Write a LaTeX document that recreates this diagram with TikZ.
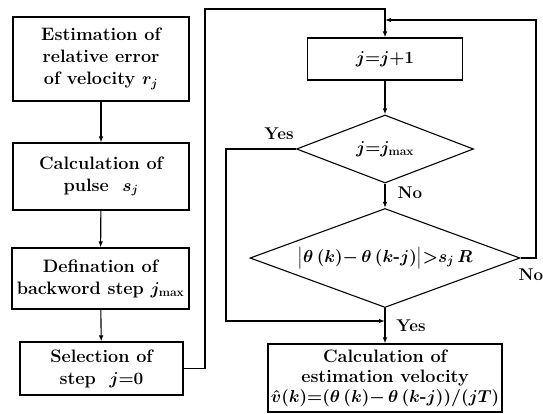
\documentclass[tikz,border=0pt]{standalone}
\usepackage{amsmath}
\usepackage{tikz}
\usetikzlibrary{shapes.geometric,arrows.meta}
\tikzset{
  box/.style={rectangle, draw, line width=1.1pt, align=center, inner sep=0pt,
              font=\fontsize{18}{22}\selectfont\bfseries\boldmath},
  dec/.style={diamond, draw, line width=1.1pt, align=center, inner sep=0pt,
              font=\fontsize{18}{22}\selectfont\bfseries\boldmath},
  lab/.style={font=\fontsize{17}{19}\selectfont\bfseries, inner sep=0pt},
  arr/.style={-{Latex[length=6pt,width=4.5pt]}, line width=1.1pt}
}
\begin{document}
\begin{tikzpicture}[x=1pt,y=-1pt]
  \useasboundingbox (0,0) rectangle (543,414);
  \node[box, minimum width=176pt, minimum height=84pt] (est) at (101,59) {Estimation of\\relative error\\of velocity $r_j$};
  \node[box, minimum width=176pt, minimum height=67pt] (pul) at (101,176.5) {Calculation of\\pulse \ $s_j$};
  \node[box, minimum width=177pt, minimum height=61pt] (bws) at (100.5,278.5) {Defination of\\backword step $j_{\max}$};
  \node[box, minimum width=163pt, minimum height=53pt] (sel) at (101.5,368.5) {Selection of\\step \ $j{=}0$};
  \node[box, minimum width=155pt, minimum height=42pt] (inc) at (385,59) {$j{=}j{+}1$};
  \node[dec, aspect=2.6, minimum width=177pt, minimum height=68pt] (dmax) at (385,149) {$j{=}j_{\max}$};
  \node[dec, aspect=2.7, minimum width=270pt, minimum height=99pt] (dthr) at (385,258) {$\bigl|\theta\,(k){-}\,\theta\,(k\text{-}j)\bigr|{>}s_j\,R$};
  \node[box, minimum width=234pt, minimum height=68pt, font=\fontsize{18}{20}\selectfont\bfseries\boldmath] (vel) at (385,378) {Calculation of\\estimation velocity\\$\hat{v}(k){=}(\theta\,(k){-}\,\theta\,(k\text{-}j))/(jT)$};
  \coordinate (loopl) at (205,9);
  \coordinate (loopr) at (536,20);
  \coordinate (loopy) at (226,321);
  \coordinate (join) at (385,20);
  \coordinate (merge) at (385,321);
  \foreach \a/\b in {est/pul,pul/bws,bws/sel,inc/dmax,dmax/dthr,dthr/vel} \draw[arr] (\a) -- (\b);
  \draw[arr] (sel.east) -| (loopl) -| (inc.north);
  \draw[arr] (dthr.east) -| (loopr) -- (join);
  \draw[arr] (dmax.west) -| (loopy) -- (merge);
  \node[lab] (ly1) at (279,134) {Yes};
  \node[lab] (ln1) at (410,193) {No};
  \node[lab] (ln2) at (531,275) {No};
  \node[lab] (ly2) at (411,326) {Yes};
\end{tikzpicture}
\end{document}
